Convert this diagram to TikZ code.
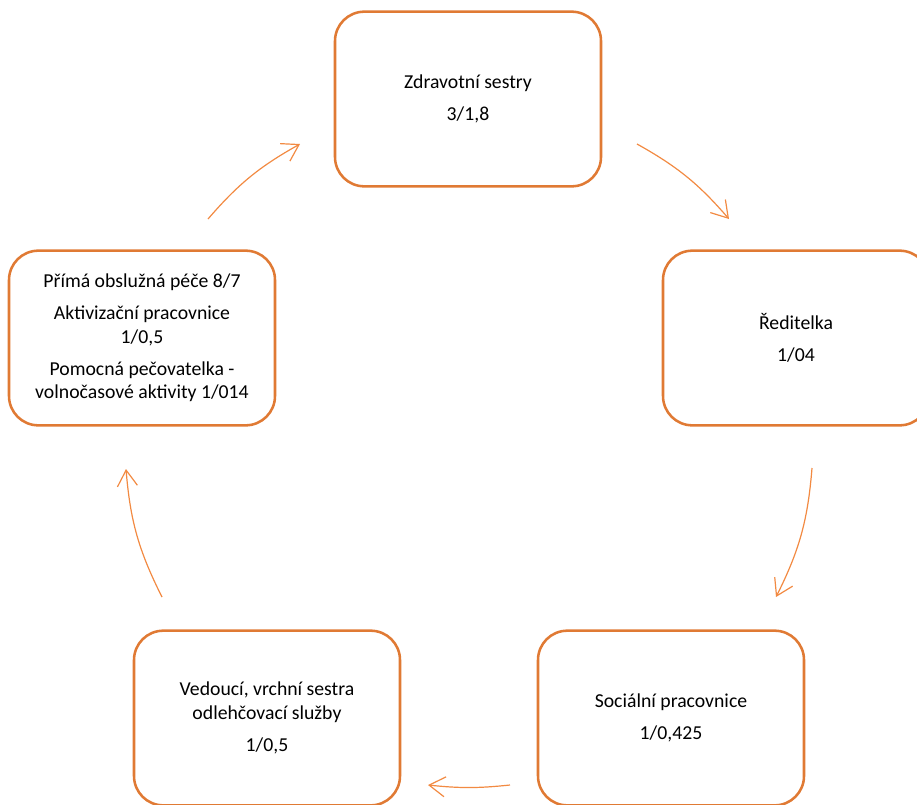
\documentclass[tikz,border=0pt]{standalone}
\usepackage{fontspec}
\setmainfont{Carlito}
\usetikzlibrary{arrows.meta}
\definecolor{boxorange}{RGB}{224,122,52}
\definecolor{arroworange}{RGB}{242,138,66}
\tikzset{
  unit/.style={draw=boxorange, line width=1.9pt, rounded corners=22pt,
    minimum width=199.5pt, minimum height=131pt, align=center,
    font=\fontsize{14.8}{17.5}\selectfont},
  cyc/.style={draw=arroworange, line width=0.9pt,
    -{Straight Barb[length=12pt, width=15pt]}}
}
\begin{document}
\begin{tikzpicture}[x=0.75pt, y=-0.75pt]

\clip (0,0) rectangle (917,804);

% Boxes
\node[unit] (sestry) at (468,99) {Zdravotní sestry\\[6.5pt]3/1,8};
\node[unit] (reditelka) at (796,338) {Ředitelka\\[6.5pt]1/04};
\node[unit] (socialni) at (671,718) {Sociální pracovnice\\[6.5pt]1/0,425};
\node[unit] (vedouci) at (267,718) {Vedoucí, vrchní sestra\\odlehčovací služby\\[6.5pt]1/0,5};
\node[unit] (pece) at (142,338) {Přímá obslužná péče 8/7\\[6.5pt]Aktivizační pracovnice\\1/0,5\\[6.5pt]Pomocná pečovatelka -\\volnočasové aktivity 1/014};

% Arrows
\coordinate (p1) at (208,219); \coordinate (q1) at (300,144);
\coordinate (p2) at (637,144); \coordinate (q2) at (729,219);
\coordinate (p3) at (812,468); \coordinate (q3) at (776,597);
\coordinate (p4) at (510,785); \coordinate (q4) at (428,785);
\coordinate (p5) at (162,597); \coordinate (q5) at (126,469);

\draw[cyc] (p1) to[bend left=10] (q1);
\draw[cyc] (p2) to[bend left=10] (q2);
\draw[cyc] (p3) to[bend left=11] (q3);
\draw[cyc] (p4) to[bend left=6] (q4);
\draw[cyc] (p5) to[bend left=11] (q5);

\end{tikzpicture}
\end{document}
